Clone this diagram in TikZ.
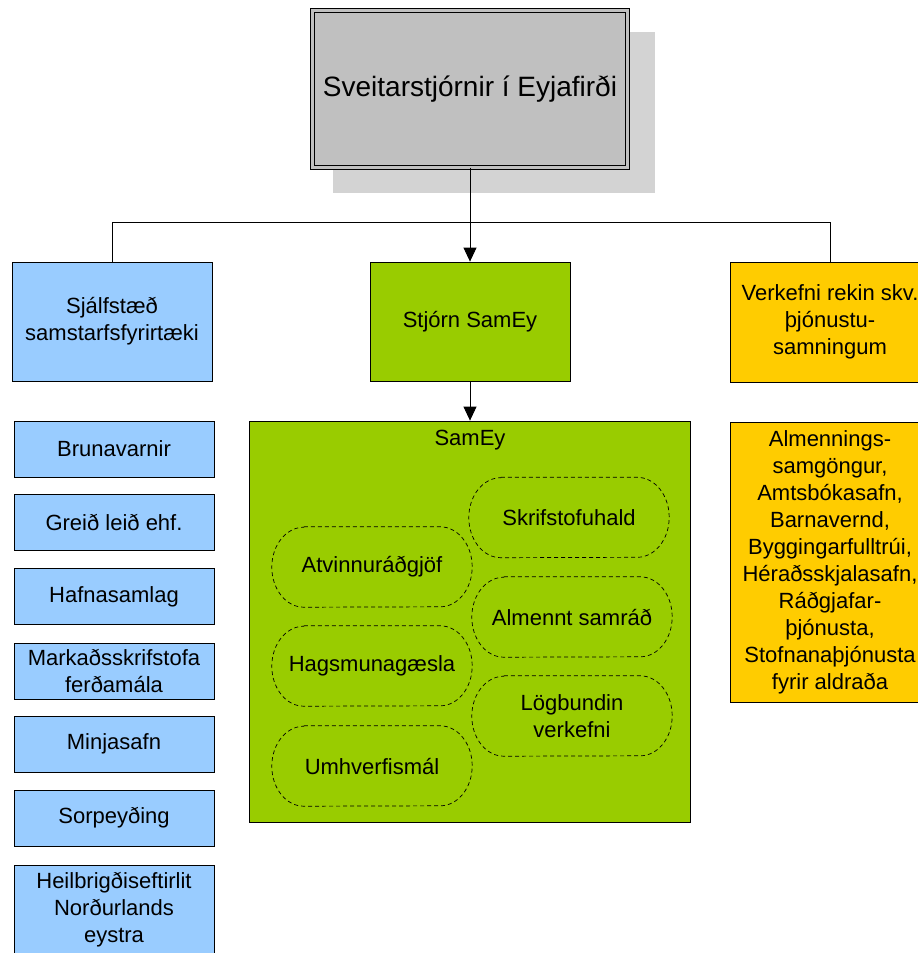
\documentclass[tikz,border=0pt]{standalone}
\usepackage{fontspec}
\setmainfont{Liberation Sans}
\usetikzlibrary{arrows.meta}
\definecolor{boxblue}{HTML}{99CCFF}
\definecolor{boxgreen}{HTML}{99CC00}
\definecolor{boxorange}{HTML}{FFCC00}
\definecolor{topgray}{HTML}{C0C0C0}
\definecolor{shadowgray}{HTML}{D3D3D3}
\begin{document}
\begin{tikzpicture}[x=1pt,y=-1pt,
  box/.style={draw=black, line width=0.8pt, minimum width=200pt, inner sep=2pt, align=center, font=\fontsize{22}{27}\selectfont},
  pill/.style={minimum width=200pt, minimum height=80pt, inner sep=0pt, align=center, font=\fontsize{22}{27}\selectfont},
  pilledge/.style={draw=black, line width=0.7pt, dash pattern=on 4pt off 3pt},
  conn/.style={line width=0.8pt, draw=black},
  arr/.style={conn, -{Triangle[width=13pt,length=14pt]}}]
\useasboundingbox (0,0) rectangle (918,953);
\clip (0,0) rectangle (918,953);
% shadow of top box
\fill[shadowgray] (333,32) rectangle (655,193);
\node[draw=black, line width=0.9pt, double=topgray, double distance=3pt, fill=topgray,
      minimum width=315pt, minimum height=157pt, inner sep=0pt,
      font=\fontsize{28}{34}\selectfont] (top) at (470,89) {Sveitarstjórnir í Eyjafirði};
% second level
\node[box, fill=boxblue, minimum height=119pt] (sjalf) at (112,321.5) {Sjálfstæð\\samstarfsfyrirtæki};
\node[box, fill=boxgreen, minimum height=119pt] (stjorn) at (470,321.5) {Stjórn SamEy};
\node[box, fill=boxorange, minimum height=120pt] (verk) at (830,322) {Verkefni rekin skv.\\þjónustu-\\samningum};
% left column
\node[box, fill=boxblue, minimum height=56pt] (brun) at (114,449) {Brunavarnir};
\node[box, fill=boxblue, minimum height=56pt] (greid) at (114,522.5) {Greið leið ehf.};
\node[box, fill=boxblue, minimum height=56pt] (hafn) at (114,596.5) {Hafnasamlag};
\node[box, fill=boxblue, minimum height=56pt] (mark) at (114,671) {Markaðsskrifstofa\\ferðamála};
\node[box, fill=boxblue, minimum height=56pt] (minja) at (114,744) {Minjasafn};
\node[box, fill=boxblue, minimum height=56pt] (sorp) at (114,818) {Sorpeyðing};
\node[box, fill=boxblue, minimum height=90pt] (heil) at (114,910) {Heilbrigðiseftirlit\\Norðurlands\\eystra};
% right column
\node[box, fill=boxorange, minimum height=280pt] (almenn) at (830,562) {Almennings-\\samgöngur,\\Amtsbókasafn,\\Barnavernd,\\Byggingarfulltrúi,\\Héraðsskjalasafn,\\Ráðgjafar-\\þjónusta,\\Stofnanaþjónusta\\fyrir aldraða};
% SamEy
\node[draw=black, line width=0.8pt, fill=boxgreen, minimum width=441pt, minimum height=401pt, inner sep=0pt] (samey) at (470,621.5) {};
\node[font=\fontsize{22}{27}\selectfont, inner sep=0pt] (sameyt) at (470,440) {SamEy};
\node[pill] (skrif) at (569,517.5) {Skrifstofuhald};
\node[pill] (atv) at (372,567) {Atvinnuráðgjöf};
\node[pill] (alm) at (572,617) {Almennt samráð};
\node[pill] (hags) at (372,666) {Hagsmunagæsla};
\node[pill] (log) at (572,716) {Lögbundin\\verkefni};
\node[pill] (umh) at (372,766) {Umhverfismál};
\foreach \n in {skrif,atv,alm,hags,log,umh}{
  \draw[pilledge] ([xshift=32pt]\n.north west) -- ([xshift=-32pt]\n.north east)
    arc[start angle=90, end angle=-90, x radius=32pt, y radius=40pt]
    -- ([xshift=32pt]\n.south west)
    arc[start angle=270, end angle=90, x radius=32pt, y radius=40pt] -- cycle;
}
% connectors
\coordinate (jL) at (112,222);
\coordinate (jC) at (470,222);
\coordinate (jR) at (830,222);
\draw[conn] (top.south) -- (jC);
\draw[conn] (jL) -- (jR);
\draw[conn] (jL) -- (sjalf.north);
\draw[conn] (jR) -- (verk.north);
\draw[arr] (jC) -- (stjorn.north);
\draw[arr] (stjorn.south) -- (samey.north);
\end{tikzpicture}
\end{document}
